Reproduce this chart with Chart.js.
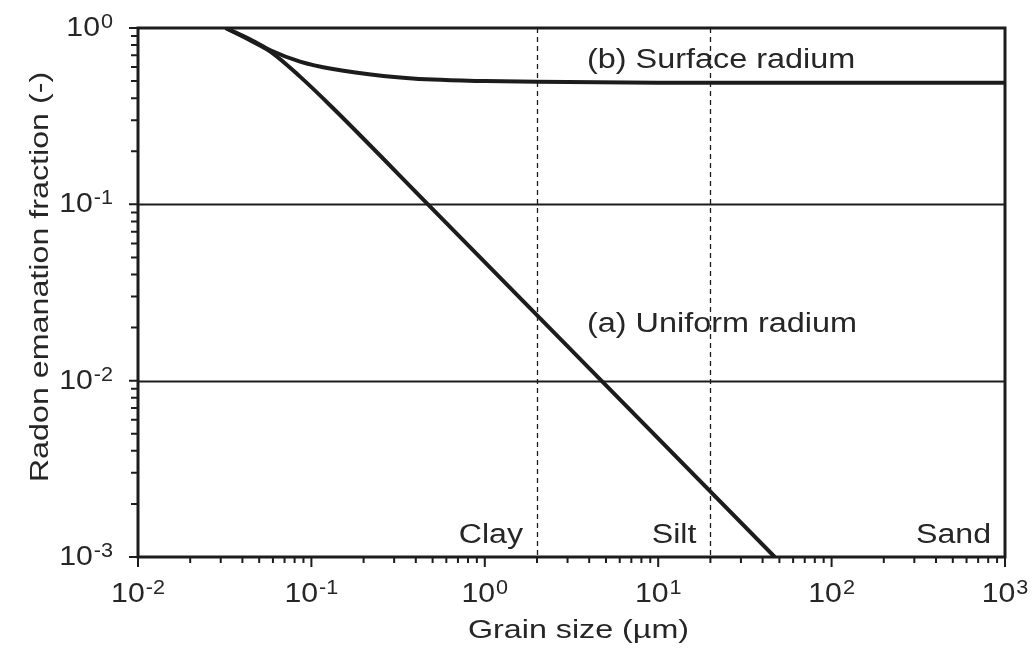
<!DOCTYPE html>
<html lang="en">
<head>
    <meta charset="UTF-8">
    <title>Radon emanation fraction</title>
    <script src="https://cdn.jsdelivr.net/npm/chart.js"></script>
    <style>
        html, body { margin: 0; padding: 0; background: #fff; }
        #chart { display: block; }
    </style>
</head>
<body>
    <canvas id="chart" width="1033" height="654"></canvas>

    <script>
        // Curve (a): uniform radium
        const uniformX = [0.032, 0.045, 0.058, 0.086, 0.133, 0.47, 4.7, 47];
        const uniformY = [1.0, 0.845, 0.735, 0.53, 0.352, 0.1, 0.01, 0.001];

        // Curve (b): surface radium
        const surfaceX = [0.032, 0.045, 0.058, 0.086, 0.133, 0.26, 0.5, 1, 2, 10, 1000];
        const surfaceY = [1.0, 0.855, 0.748, 0.645, 0.585, 0.535, 0.51, 0.5, 0.495, 0.49, 0.49];

        // Axes
        const xTicks = [1e-2, 1e-1, 1e0, 1e1, 1e2, 1e3];
        const xExponents = ['-2', '-1', '0', '1', '2', '3'];
        const yTicks = [1e-3, 1e-2, 1e-1, 1e0];
        const yExponents = ['-3', '-2', '-1', '0'];
        const yGridLines = [1e-1, 1e-2];

        // Grain size class boundaries (µm) and their labels
        const classBounds = [2, 20];
        const classLabels = ['Clay', 'Silt', 'Sand'];
        const classLabelX = [2, 20, 1000];

        const FONT = '"Liberation Sans", Arial, sans-serif';
        const INK = '#1c1c1c';

        function toPoints(xs, ys) {
            return xs.map((x, i) => ({ x: x, y: ys[i] }));
        }

        // wide-ish text, like the scanned figure
        function drawText(ctx, s, x, y, size, align, stretch) {
            ctx.save();
            ctx.font = size + 'px ' + FONT;
            ctx.translate(x, y);
            ctx.scale(stretch, 1);
            ctx.textAlign = align;
            ctx.textBaseline = 'alphabetic';
            ctx.fillStyle = '#262626';
            ctx.fillText(s, 0, 0);
            ctx.restore();
        }

        function textWidth(ctx, s, size, stretch) {
            ctx.font = size + 'px ' + FONT;
            return ctx.measureText(s).width * stretch;
        }

        // "10" with a raised exponent, starting at x
        function drawPower(ctx, exp, x, y) {
            const w1 = textWidth(ctx, '10', 28, 1.08);
            drawText(ctx, '10', x, y, 28, 'left', 1.08);
            drawText(ctx, exp, x + w1 + 1, y - 8, 20, 'left', 1.08);
        }

        function powerWidth(ctx, exp) {
            return textWidth(ctx, '10', 28, 1.08) + 1 + textWidth(ctx, exp, 20, 1.08);
        }

        function minorValues(majors) {
            const out = [];
            for (let i = 0; i < majors.length - 1; i++) {
                for (let k = 2; k <= 9; k++) out.push(majors[i] * k);
            }
            return out;
        }

        const framePlugin = {
            id: 'frame',
            beforeDatasetsDraw(chart) {
                const ctx = chart.ctx;
                const a = chart.chartArea;
                const xs = chart.scales.x;
                const ys = chart.scales.y;
                ctx.save();
                // horizontal lines at the inner decades
                ctx.strokeStyle = INK;
                ctx.lineWidth = 2;
                yGridLines.forEach(v => {
                    const py = Math.round(ys.getPixelForValue(v)) + 0.5;
                    ctx.beginPath();
                    ctx.moveTo(a.left, py);
                    ctx.lineTo(a.right, py);
                    ctx.stroke();
                });
                // dashed class boundaries
                ctx.lineWidth = 1.3;
                ctx.setLineDash([5, 4]);
                classBounds.forEach(v => {
                    const px = Math.round(xs.getPixelForValue(v)) + 0.5;
                    ctx.beginPath();
                    ctx.moveTo(px, a.top);
                    ctx.lineTo(px, a.bottom);
                    ctx.stroke();
                });
                ctx.restore();
            },
            afterDatasetsDraw(chart) {
                const ctx = chart.ctx;
                const a = chart.chartArea;
                const xs = chart.scales.x;
                const ys = chart.scales.y;
                ctx.save();
                ctx.strokeStyle = INK;
                ctx.lineWidth = 3;
                ctx.strokeRect(a.left, a.top, a.right - a.left, a.bottom - a.top);

                // ticks, pointing out of the box
                ctx.lineWidth = 2;
                ctx.beginPath();
                xTicks.forEach(v => {
                    const px = xs.getPixelForValue(v);
                    ctx.moveTo(px, a.bottom);
                    ctx.lineTo(px, a.bottom + 10);
                });
                minorValues(xTicks).forEach(v => {
                    const px = xs.getPixelForValue(v);
                    ctx.moveTo(px, a.bottom);
                    ctx.lineTo(px, a.bottom + 6);
                });
                yTicks.forEach(v => {
                    const py = ys.getPixelForValue(v);
                    ctx.moveTo(a.left, py);
                    ctx.lineTo(a.left - 9, py);
                });
                minorValues(yTicks).forEach(v => {
                    const py = ys.getPixelForValue(v);
                    ctx.moveTo(a.left, py);
                    ctx.lineTo(a.left - 7, py);
                });
                ctx.stroke();

                // tick labels
                xTicks.forEach((v, i) => {
                    const px = xs.getPixelForValue(v);
                    const w = powerWidth(ctx, xExponents[i]);
                    drawPower(ctx, xExponents[i], px - w / 2, a.bottom + 45);
                });
                yTicks.forEach((v, i) => {
                    const py = ys.getPixelForValue(v);
                    const w = powerWidth(ctx, yExponents[i]);
                    drawPower(ctx, yExponents[i], a.left - 25 - w, py + 8);
                });

                // axis titles
                drawText(ctx, 'Grain size (\u00b5m)', (a.left + a.right) / 2 + 7, 638, 26, 'center', 1.24);
                ctx.save();
                ctx.translate(48, 277);
                ctx.rotate(-Math.PI / 2);
                drawText(ctx, 'Radon emanation fraction (-)', 0, 0, 26, 'center', 1.24);
                ctx.restore();

                // grain size classes, right-aligned against each boundary
                classLabels.forEach((s, i) => {
                    const px = xs.getPixelForValue(classLabelX[i]);
                    drawText(ctx, s, px - 14, a.bottom - 14, 27, 'right', 1.19);
                });

                // curve labels
                drawText(ctx, '(b) Surface radium', 587, 68, 27, 'left', 1.2);
                drawText(ctx, '(a) Uniform radium', 587, 332, 27, 'left', 1.2);
                ctx.restore();
            }
        };

        const chart = new Chart(document.getElementById('chart'), {
            type: 'line',
            data: {
                datasets: [
                    {
                        label: '(a) Uniform radium',
                        data: toPoints(uniformX, uniformY),
                        borderColor: INK,
                        borderWidth: 4,
                        pointRadius: 0,
                        cubicInterpolationMode: 'monotone',
                        fill: false
                    },
                    {
                        label: '(b) Surface radium',
                        data: toPoints(surfaceX, surfaceY),
                        borderColor: INK,
                        borderWidth: 4,
                        pointRadius: 0,
                        cubicInterpolationMode: 'monotone',
                        fill: false
                    }
                ]
            },
            options: {
                responsive: false,
                animation: false,
                layout: {
                    padding: { left: 138, right: 28, top: 28, bottom: 97 }
                },
                plugins: {
                    legend: { display: false },
                    tooltip: { enabled: false }
                },
                scales: {
                    x: { type: 'logarithmic', min: 1e-2, max: 1e3, display: false },
                    y: { type: 'logarithmic', min: 1e-3, max: 1e0, display: false }
                }
            },
            plugins: [framePlugin]
        });
    </script>
</body>
</html>
